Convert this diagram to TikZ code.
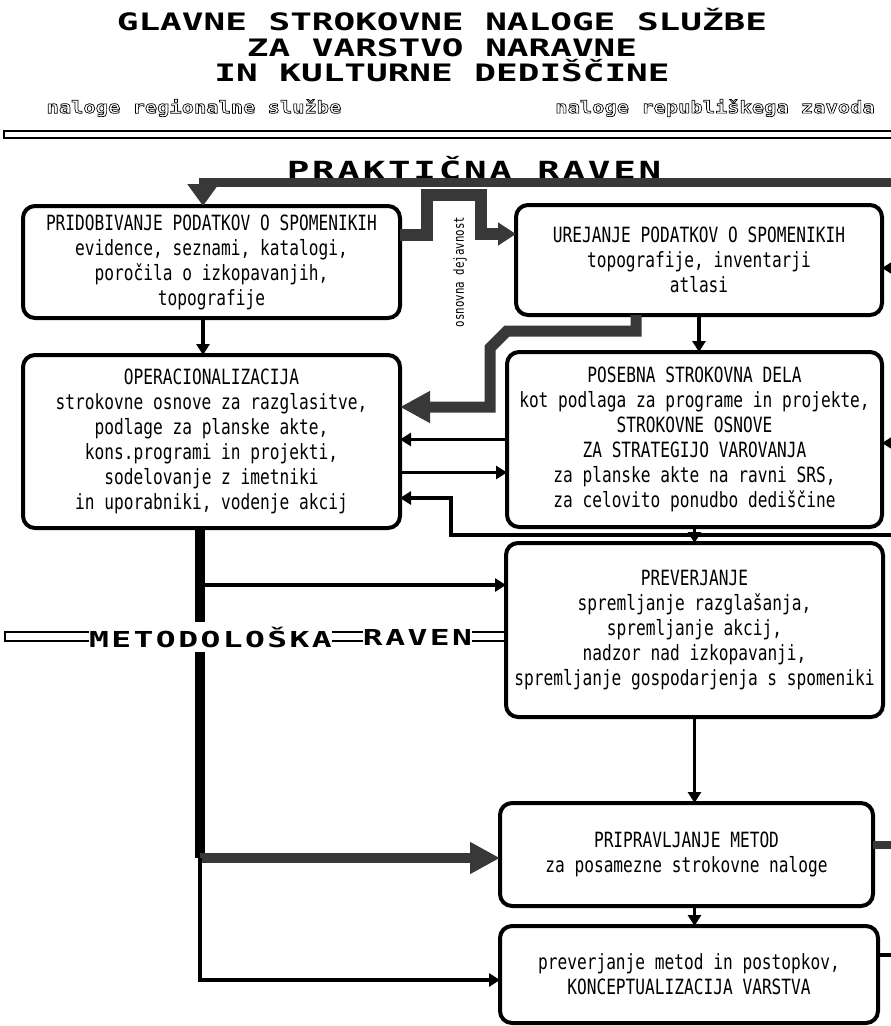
\documentclass[tikz,border=0pt]{standalone}
\usepackage{fontspec}
\usetikzlibrary{arrows.meta, positioning}
\newfontfamily\headfont[FakeStretch=1.5]{DejaVu Sans Mono}
\newfontfamily\levelfont[FakeStretch=1.5,LetterSpace=11]{DejaVu Sans Mono}
\newfontfamily\subfont[FakeStretch=1.2]{DejaVu Sans Mono}
\newfontfamily\boxfont[FakeStretch=0.77]{DejaVu Sans Mono}
\newcommand\hollowtxt[1]{\special{pdf:literal direct 1 Tr 0.7 w}#1\special{pdf:literal direct 0 Tr}}
\colorlet{stipple}{black!78}
\tikzset{
  task/.style={draw, line width=4pt, rounded corners=12pt, inner sep=0pt, outer sep=0pt,
    align=center, font=\boxfont\fontsize{21}{25}\selectfont},
  flow/.style={line width=3.5pt, -{Triangle[length=11pt,width=13pt]}},
  broad/.style={line width=11pt, draw=stipple, line join=miter},
  bighead/.style={-{Triangle[length=30pt,width=30pt]}},
  sub/.style={font=\subfont\bfseries\fontsize{17}{20}\selectfont},
  level/.style={font=\levelfont\bfseries\fontsize{22}{26}\selectfont, fill=white, inner xsep=0pt, inner ysep=5pt},
  rule/.style={draw, line width=1.5pt}
}
\begin{document}
\begin{tikzpicture}[x=1pt, y=-1pt]
        \useasboundingbox (0,0) rectangle (891,1026);
        %
        \node [font=\headfont\bfseries\fontsize{24}{25.5}\selectfont, align=center] (title) at (442,45.5)
              {GLAVNE STROKOVNE NALOGE SLUŽBE\\ZA VARSTVO NARAVNE\\IN KULTURNE DEDIŠČINE};
        \node [sub] (regio) at (194,108) {\hollowtxt{naloge regionalne službe}};
        \node [sub] (repub) at (715,108) {\hollowtxt{naloge republiškega zavoda}};
        \draw [rule] (895,131) -- (4,131) -- (4,138) -- (895,138);
        \node [level, font=\levelfont\bfseries\fontsize{25}{28}\selectfont] (prakt) at (474,168) {PRAKTIČNA RAVEN};
        %
        \node [task, minimum width=377pt, minimum height=112pt] (pridob) at (211.5,262)
              {PRIDOBIVANJE PODATKOV O SPOMENIKIH\\evidence, seznami, katalogi,\\poročila o izkopavanjih,\\topografije};
        \node [task, minimum width=377pt, minimum height=173pt, below=37pt of pridob] (operac)
              {OPERACIONALIZACIJA\\strokovne osnove za razglasitve,\\podlage za planske akte,\\kons.programi in projekti,\\sodelovanje z imetniki\\in uporabniki, vodenje akcij};
        \node [task, minimum width=366pt, minimum height=110pt] (urej) at (699,260)
              {UREJANJE PODATKOV O SPOMENIKIH\\topografije, inventarji\\atlasi};
        \node [task, minimum width=375pt, minimum height=175pt, below=37pt of urej, xshift=-4.5pt] (poseb)
              {POSEBNA STROKOVNA DELA\\kot podlaga za programe in projekte,\\STROKOVNE OSNOVE\\ZA STRATEGIJO VAROVANJA\\za planske akte na ravni SRS,\\za celovito ponudbo dediščine};
        \node [task, minimum width=377pt, minimum height=174pt, below=16pt of poseb] (prev)
              {PREVERJANJE\\spremljanje razglašanja,\\spremljanje akcij,\\nadzor nad izkopavanji,\\spremljanje gospodarjenja s spomeniki};
        \node [task, minimum width=373pt, minimum height=103pt, below=86pt of prev, xshift=-8pt] (prip)
              {PRIPRAVLJANJE METOD\\za posamezne strokovne naloge};
        \node [task, minimum width=378pt, minimum height=97pt, below=20pt of prip, xshift=2.5pt] (konc)
              {preverjanje metod in postopkov,\\KONCEPTUALIZACIJA VARSTVA};
        %
        \coordinate (topin) at (891,182);
        \coordinate (urejin) at (891,268);
        \coordinate (posebin) at (891,443);
        \coordinate (retin) at (891,535);
        \coordinate (pripout) at (891,845);
        \coordinate (koncout) at (891,955);
        \coordinate (tap) at (200,585);
        \coordinate (split) at (200,858);
        %
        \draw [line width=9pt, draw=stipple, -{Triangle[length=22pt,width=30pt]}] (topin) -| ([xshift=-8.5pt]pridob.north);
        \draw [broad, line width=12pt, -{Triangle[length=18pt,width=22pt]}] ([yshift=27pt]pridob.east) -| (427,195) -| (481,234) -- ([yshift=26pt]urej.west);
        \node [rotate=90, font=\boxfont\fontsize{14}{15}\selectfont] (osnov) at (460,272) {osnovna dejavnost};
        \draw [flow] ([xshift=-8.5pt]pridob.south) -- ([xshift=-8.5pt]operac.north);
        \draw [flow] (urej.south) -- (urej.south |- poseb.north);
        \draw [broad, bighead] ([xshift=-63pt]urej.south) |- (507,331) -- (490,348) |- ([yshift=34.5pt]operac.east);
        \draw [flow] (poseb.west) -- (poseb.west -| operac.east);
        \draw [flow] ([yshift=-31pt]operac.east) -- ([yshift=-31pt]operac.east -| poseb.west);
        \draw [flow] (retin) -| (451,498) -- ([yshift=-56.5pt]operac.east);
        \draw [flow] (poseb) -- (prev);
        \draw [flow] (urejin) -- (urejin -| urej.east);
        \draw [flow] (posebin) -- (posebin -| poseb.east);
        %
        \draw [line width=10pt] ([xshift=-11.5pt]operac.south) -- (split);
        \draw [flow] (tap) -- (tap -| prev.west);
        \draw [broad, line width=10pt, bighead] (split) -- (split -| prip.west);
        \draw [flow] (split) |- ([yshift=-5.5pt]konc.west);
        \draw [flow] (prev.south) -- (prev.south |- prip.north);
        \draw [flow] (prev.south |- prip.south) -- (prev.south |- konc.north);
        \draw [line width=8pt, draw=stipple] ([yshift=9.5pt]prip.east) -- (pripout);
        \draw [line width=3.5pt] ([yshift=19.5pt]konc.east) -- (koncout);
        %
        \draw [rule] (5,632) rectangle (506,641);
        \node [level] (metod) at (210.5,637) {METODOLOŠKA};
        \node [level] (raven) at (417.5,637) {RAVEN};
\end{tikzpicture}
\end{document}
